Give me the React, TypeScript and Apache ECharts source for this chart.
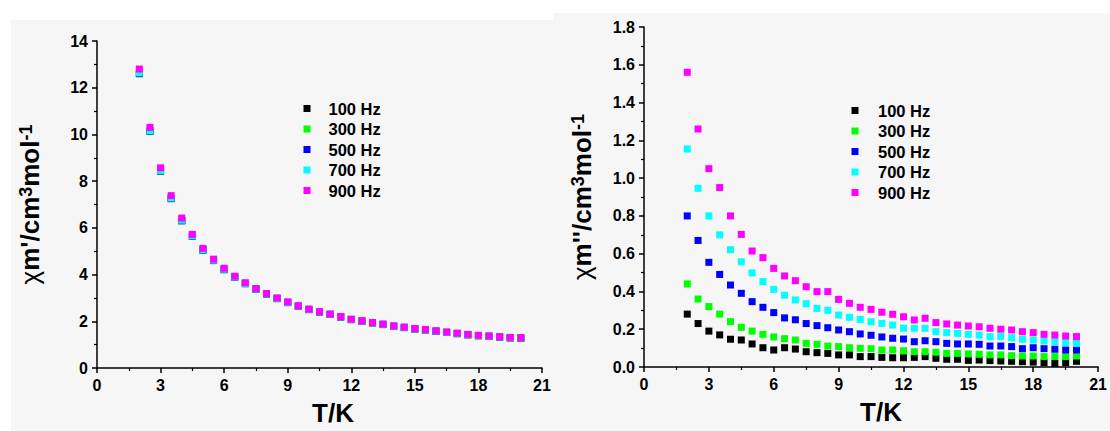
import React, { useEffect, useRef } from "react";
import * as echarts from "echarts";

const temperatures = [
  2, 2.5, 3, 3.5, 4, 4.5, 5, 5.5, 6, 6.5, 7, 7.5, 8, 8.5, 9, 9.5, 10, 10.5, 11,
  11.5, 12, 12.5, 13, 13.5, 14, 14.5, 15, 15.5, 16, 16.5, 17, 17.5, 18, 18.5, 19,
  19.5, 20,
];

const freqLabels = ["100 Hz", "300 Hz", "500 Hz", "700 Hz", "900 Hz"];
const freqColors = ["#000000", "#00ff00", "#0000ff", "#00ffff", "#ff00ff"];

// in-phase susceptibility chi' (left panel)
const chiP100 = [12.6, 10.13, 8.43, 7.25, 6.3, 5.64, 5.05, 4.6, 4.21, 3.89, 3.61, 3.37, 3.16, 2.97, 2.8, 2.64, 2.5, 2.39, 2.29, 2.18, 2.07, 2.0, 1.93, 1.86, 1.78, 1.73, 1.67, 1.63, 1.57, 1.52, 1.47, 1.42, 1.38, 1.35, 1.32, 1.29, 1.28];
const chiP300 = [12.61, 10.14, 8.44, 7.26, 6.31, 5.64, 5.05, 4.6, 4.21, 3.89, 3.61, 3.37, 3.16, 2.97, 2.8, 2.64, 2.5, 2.39, 2.29, 2.18, 2.07, 2.0, 1.93, 1.86, 1.78, 1.73, 1.67, 1.63, 1.57, 1.52, 1.47, 1.42, 1.38, 1.35, 1.32, 1.29, 1.28];
const chiP500 = [12.62, 10.15, 8.45, 7.27, 6.32, 5.65, 5.06, 4.61, 4.22, 3.9, 3.62, 3.38, 3.17, 2.98, 2.81, 2.65, 2.51, 2.4, 2.3, 2.19, 2.08, 2.01, 1.94, 1.87, 1.79, 1.74, 1.68, 1.64, 1.58, 1.53, 1.48, 1.43, 1.39, 1.36, 1.33, 1.3, 1.29];
const chiP700 = [12.64, 10.16, 8.46, 7.28, 6.33, 5.66, 5.07, 4.62, 4.23, 3.9, 3.62, 3.38, 3.17, 2.98, 2.81, 2.65, 2.51, 2.4, 2.3, 2.19, 2.08, 2.01, 1.94, 1.87, 1.79, 1.74, 1.68, 1.64, 1.58, 1.53, 1.48, 1.43, 1.39, 1.36, 1.33, 1.3, 1.29];
const chiP900 = [12.8, 10.3, 8.57, 7.38, 6.42, 5.72, 5.12, 4.66, 4.27, 3.93, 3.65, 3.4, 3.19, 3.0, 2.83, 2.66, 2.52, 2.41, 2.31, 2.2, 2.09, 2.02, 1.95, 1.88, 1.8, 1.75, 1.69, 1.65, 1.59, 1.54, 1.49, 1.44, 1.4, 1.37, 1.34, 1.31, 1.3];

// out-of-phase susceptibility chi'' (right panel)
const chiPP100 = [0.28, 0.23, 0.19, 0.17, 0.147, 0.143, 0.122, 0.102, 0.09, 0.102, 0.095, 0.081, 0.076, 0.072, 0.064, 0.064, 0.055, 0.055, 0.051, 0.049, 0.049, 0.051, 0.055, 0.046, 0.041, 0.041, 0.035, 0.037, 0.034, 0.032, 0.03, 0.028, 0.026, 0.023, 0.019, 0.023, 0.03];
const chiPP300 = [0.44, 0.36, 0.32, 0.28, 0.24, 0.21, 0.19, 0.173, 0.159, 0.15, 0.143, 0.125, 0.12, 0.111, 0.108, 0.102, 0.099, 0.097, 0.09, 0.09, 0.086, 0.081, 0.081, 0.078, 0.072, 0.072, 0.069, 0.067, 0.064, 0.064, 0.06, 0.058, 0.058, 0.055, 0.055, 0.055, 0.058];
const chiPP500 = [0.8, 0.67, 0.554, 0.49, 0.434, 0.39, 0.346, 0.316, 0.288, 0.26, 0.25, 0.23, 0.219, 0.208, 0.196, 0.187, 0.175, 0.168, 0.159, 0.152, 0.148, 0.134, 0.139, 0.134, 0.125, 0.122, 0.122, 0.12, 0.111, 0.111, 0.108, 0.097, 0.102, 0.097, 0.094, 0.09, 0.09];
const chiPP700 = [1.154, 0.946, 0.8, 0.7, 0.621, 0.557, 0.498, 0.452, 0.411, 0.38, 0.355, 0.335, 0.31, 0.3, 0.275, 0.263, 0.252, 0.24, 0.231, 0.222, 0.205, 0.205, 0.205, 0.187, 0.182, 0.178, 0.173, 0.169, 0.161, 0.161, 0.155, 0.147, 0.143, 0.138, 0.134, 0.129, 0.125];
const chiPP900 = [1.56, 1.26, 1.05, 0.95, 0.8, 0.702, 0.614, 0.579, 0.522, 0.482, 0.457, 0.425, 0.399, 0.399, 0.358, 0.337, 0.316, 0.305, 0.29, 0.279, 0.266, 0.249, 0.258, 0.235, 0.228, 0.222, 0.217, 0.213, 0.205, 0.2, 0.196, 0.187, 0.182, 0.173, 0.169, 0.164, 0.161];

const leftSets = [chiP100, chiP300, chiP500, chiP700, chiP900];
const rightSets = [chiPP100, chiPP300, chiPP500, chiPP700, chiPP900];

const FONT = "Arial, 'Liberation Sans', sans-serif";

function xAxisFor(gridIndex: number, padLeft: number) {
  return {
    type: "value",
    gridIndex,
    min: 0,
    max: 21,
    interval: 3,
    name: "T/K",
    nameLocation: "middle",
    nameGap: 32,
    nameTextStyle: {
      fontFamily: FONT,
      fontSize: 26,
      fontWeight: "bold",
      color: "#000",
      padding: [0, 0, 0, padLeft],
    },
    axisLine: { show: true, lineStyle: { color: "#000", width: 1.5 } },
    axisTick: { show: true, length: 5, lineStyle: { color: "#000", width: 1.5 } },
    minorTick: { show: true, splitNumber: 2, length: 3, lineStyle: { color: "#000", width: 1.2 } },
    splitLine: { show: false },
    axisLabel: { fontFamily: FONT, fontSize: 16, fontWeight: "bold", color: "#000", margin: 9 },
  };
}

function yAxisFor(gridIndex: number, max: number, interval: number, name: string, gap: number, decimals: number) {
  return {
    type: "value",
    gridIndex,
    min: 0,
    max,
    interval,
    name,
    nameLocation: "middle",
    nameGap: gap,
    nameTextStyle: {
      fontFamily: FONT,
      fontSize: 26,
      fontWeight: "bold",
      color: "#000",
      rich: {
        chi: { fontFamily: FONT, fontSize: 26, fontWeight: "normal", color: "#000" },
        sup: { fontFamily: FONT, fontSize: 18, fontWeight: "bold", color: "#000", verticalAlign: "top", lineHeight: 16 },
      },
    },
    axisLine: { show: true, lineStyle: { color: "#000", width: 1.5 } },
    axisTick: { show: true, length: 5, lineStyle: { color: "#000", width: 1.5 } },
    minorTick: { show: true, splitNumber: 2, length: 3, lineStyle: { color: "#000", width: 1.2 } },
    splitLine: { show: false },
    axisLabel: {
      fontFamily: FONT,
      fontSize: 16,
      fontWeight: "bold",
      color: "#000",
      margin: 9,
      formatter: (v: number) => v.toFixed(decimals),
    },
  };
}

function legendFor(left: number, top: number, padLeft: number) {
  return {
    orient: "vertical",
    left,
    top,
    data: freqLabels,
    icon: "rect",
    itemWidth: 7,
    itemHeight: 7,
    itemGap: 3.5,
    selectedMode: false,
    textStyle: {
      fontFamily: FONT,
      fontSize: 16.5,
      fontWeight: "bold",
      color: "#000",
      lineHeight: 16,
      padding: [0, 0, 0, padLeft],
    },
  };
}

export default function App() {
  const ref = useRef<HTMLDivElement>(null);

  useEffect(() => {
    if (!ref.current) return;
    const chart = echarts.init(ref.current, null, { renderer: "svg" });

    const series: any[] = [];
    leftSets.forEach((arr, k) => {
      series.push({
        type: "scatter",
        name: freqLabels[k],
        xAxisIndex: 0,
        yAxisIndex: 0,
        symbol: "rect",
        symbolSize: 7,
        itemStyle: { color: freqColors[k], opacity: 1 },
        data: temperatures.map((t, i) => [t, arr[i]]),
      });
    });
    rightSets.forEach((arr, k) => {
      series.push({
        type: "scatter",
        name: freqLabels[k],
        xAxisIndex: 1,
        yAxisIndex: 1,
        symbol: "rect",
        symbolSize: 7,
        itemStyle: { color: freqColors[k], opacity: 1 },
        data: temperatures.map((t, i) => [t, arr[i]]),
      });
    });

    chart.setOption({
      animation: false,
      backgroundColor: "#ffffff",
      graphic: [
        {
          type: "rect",
          z: -100,
          silent: true,
          shape: { x: 11, y: 20, width: 542, height: 411 },
          style: { fill: "#f6f6f6" },
        },
        {
          type: "rect",
          z: -100,
          silent: true,
          shape: { x: 553, y: 13, width: 557, height: 418 },
          style: { fill: "#f6f6f6" },
        },
      ],
      grid: [
        { left: 97, top: 41, width: 445, height: 331 },
        { left: 644, top: 27, width: 457, height: 340 },
      ],
      xAxis: [xAxisFor(0, 27), xAxisFor(1, 20)],
      yAxis: [
        yAxisFor(0, 14, 2, "{chi|χ}m'/cm{sup|3}mol{sup|-1}", 54, 0),
        yAxisFor(1, 1.8, 0.2, "{chi|χ}m''/cm{sup|3}mol{sup|-1}", 49, 1),
      ],
      legend: [legendFor(298.5, 95, 13), legendFor(846.5, 97, 14.5)],
      series,
    });

    return () => chart.dispose();
  }, []);

  return (
    <div
      ref={ref}
      style={{ position: "absolute", left: 0, top: 0, width: 1110, height: 431 }}
    />
  );
}
